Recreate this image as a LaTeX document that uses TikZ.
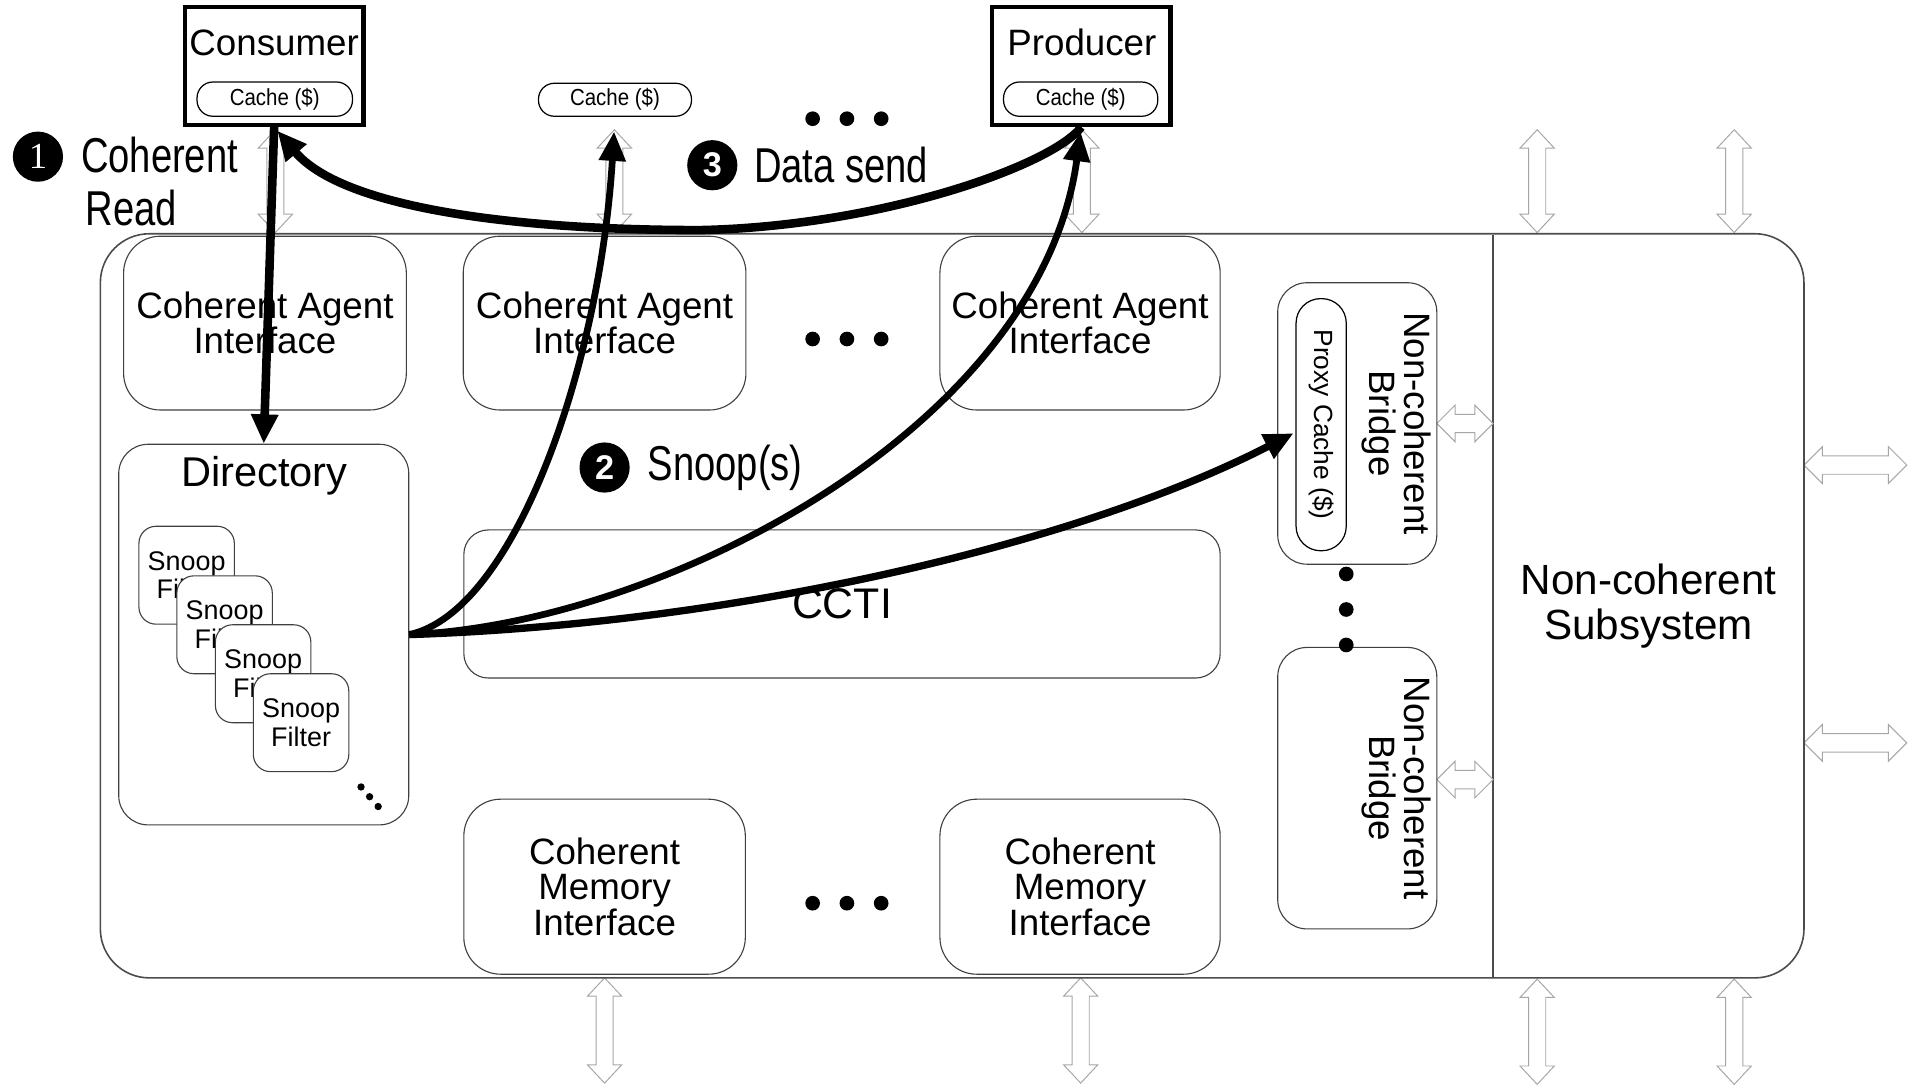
\documentclass[tikz,border=0pt]{standalone}
\usepackage{fontspec}
\setmainfont{Liberation Sans}
\newfontfamily\narrowfont[FakeStretch=0.78]{Liberation Sans}
\newfontfamily\condfont[FakeStretch=0.88]{Liberation Sans}
\newfontfamily\serifnum{Liberation Serif}
\usetikzlibrary{arrows.meta}
\newcommand\fsz[2]{\fontsize{#1}{#2}\selectfont}
% hollow vertical double arrow: x, y1 (top), y2 (bottom)
\newcommand\gvarrow[3]{\draw[garrow] (#1,#2) -- ({#1+14},{#2+15}) -- ({#1+7},{#2+15}) -- ({#1+7},{#3-15}) -- ({#1+14},{#3-15}) -- (#1,#3) -- ({#1-14},{#3-15}) -- ({#1-7},{#3-15}) -- ({#1-7},{#2+15}) -- ({#1-14},{#2+15}) -- cycle;}
% hollow horizontal double arrow: y, x1 (left), x2 (right)
\newcommand\gharrow[3]{\draw[garrow] (#2,#1) -- ({#2+15},{#1-15}) -- ({#2+15},{#1-7.5}) -- ({#3-15},{#1-7.5}) -- ({#3-15},{#1-15}) -- (#3,#1) -- ({#3-15},{#1+15}) -- ({#3-15},{#1+7.5}) -- ({#2+15},{#1+7.5}) -- ({#2+15},{#1+15}) -- cycle;}
\begin{document}
\begin{tikzpicture}[x=1pt,y=-1pt,
  rbox/.style={draw=black!75, line width=0.9pt, fill=white, rounded corners=30pt, inner sep=0pt, align=center},
  pill/.style={draw=black, line width=1pt, fill=white, rounded corners=13pt, inner sep=0pt, font=\condfont\fsz{19}{19}},
  agent/.style={draw=black, line width=3.5pt, fill=white, minimum width=146pt, minimum height=96pt, inner sep=0pt},
  sfilter/.style={rbox, rounded corners=14pt, minimum width=78pt, minimum height=80pt, font=\fsz{22}{23}},
  flowarrow/.style={-{Triangle[length=24pt,width=21pt]}, line width=5.5pt, black},
  garrow/.style={draw=black!35, line width=0.8pt, fill=white, line join=miter},
  stepnum/.style={circle, fill=black, text=white, minimum size=41pt, inner sep=0pt, font=\bfseries\fsz{28}{28}},
  steptext/.style={anchor=west, inner sep=0pt, font=\narrowfont\fsz{40}{40}},
  bigdot/.style={circle, fill=black, minimum size=12pt, inner sep=0pt},
  smalldot/.style={circle, fill=black, minimum size=6pt, inner sep=0pt},
  plain/.style={inner sep=0pt, align=center}
]
\fill[white] (0,0) rectangle (1568,887);
\useasboundingbox (0,0) rectangle (1568,887);

% gray hollow double arrows (behind)
\gvarrow{225}{106}{190}
\gvarrow{502}{106}{190}
\gvarrow{884}{106}{190}
\gvarrow{1256}{106}{190}
\gvarrow{1417}{106}{190}
\gvarrow{494}{799}{885}
\gvarrow{883}{799}{885}
\gvarrow{1256}{800}{886}
\gvarrow{1417}{800}{886}
\gharrow{380}{1474}{1558}
\gharrow{607}{1474}{1558}

% outer block
\node[rbox, draw=black!70, line width=1.3pt, rounded corners=40pt, minimum width=1392pt, minimum height=608pt] (ccu) at (778,495) {};
\node[plain, minimum width=254pt, minimum height=606pt, font=\fsz{34.5}{37}] (nonsub) at (1347,495) {Non-coherent\\Subsystem};
\draw[black!70, line width=1.2pt] (nonsub.north west) -- (nonsub.south west);

\gharrow{346}{1174}{1220}
\gharrow{637}{1174}{1220}

% coherent agent interfaces
\node[rbox, minimum width=231pt, minimum height=142pt, font=\fsz{30}{29}] (cai1) at (216.5,264) {Coherent Agent\\Interface};
\node[rbox, minimum width=231pt, minimum height=142pt, font=\fsz{30}{29}] (cai2) at (494,264) {Coherent Agent\\Interface};
\node[rbox, minimum width=229pt, minimum height=142pt, font=\fsz{30}{29}] (cai3) at (882.5,264) {Coherent Agent\\Interface};
\node[bigdot] (cd1) at (664,277) {};
\node[bigdot] (cd2) at (692,277) {};
\node[bigdot] (cd3) at (720,277) {};

% directory
\node[rbox, rounded corners=24pt, minimum width=237pt, minimum height=311pt] (directory) at (215.5,518.5) {};
\node[plain, font=\fsz{34}{34}] (dirlabel) at (216,389) {Directory};
\node[sfilter] (sf1) at (152.5,470) {Snoop\\Filter};
\node[sfilter] (sf2) at (183.5,510.5) {Snoop\\Filter};
\node[sfilter] (sf3) at (215,550.5) {Snoop\\Filter};
\node[sfilter] (sf4) at (246,590.5) {Snoop\\Filter};
\node[smalldot] (dd1) at (295,643) {};
\node[smalldot] (dd2) at (302,651) {};
\node[smalldot] (dd3) at (309,659) {};

% CCTI
\node[rbox, rounded corners=20pt, minimum width=618pt, minimum height=121pt, font=\fsz{35}{35}] (ccti) at (688,493.5) {CCTI};

% coherent memory interfaces
\node[rbox, minimum width=230pt, minimum height=143pt, font=\fsz{30}{29}] (cmi1) at (494,724.5) {Coherent\\Memory\\Interface};
\node[rbox, minimum width=229pt, minimum height=143pt, font=\fsz{30}{29}] (cmi2) at (882.5,724.5) {Coherent\\Memory\\Interface};
\node[bigdot] (md1) at (664,738) {};
\node[bigdot] (md2) at (692,738) {};
\node[bigdot] (md3) at (720,738) {};

% non-coherent bridges
\node[rbox, rounded corners=24pt, minimum width=130pt, minimum height=230pt] (bridge1) at (1109,346) {};
\node[pill, rounded corners=20pt, minimum width=41pt, minimum height=206pt] (proxy) at (1079.5,347) {};
\node[plain, rotate=-90, font=\fsz{21.5}{21.5}] (proxylabel) at (1080,347) {Proxy Cache (\$)};
\node[plain, rotate=-90, font=\fsz{30}{29}] (b1label) at (1141,346) {Non-coherent\\Bridge};
\node[rbox, rounded corners=24pt, minimum width=130pt, minimum height=230pt] (bridge2) at (1109,644) {};
\node[plain, rotate=-90, font=\fsz{30}{29}] (b2label) at (1141,644) {Non-coherent\\Bridge};
\node[bigdot] (bd1) at (1100,469) {};
\node[bigdot] (bd2) at (1100,498) {};
\node[bigdot] (bd3) at (1100,527) {};

% agents on top
\node[agent] (consumer) at (224,54) {};
\node[plain, font=\fsz{30}{30}] (consumerlabel) at (224,35) {Consumer};
\node[pill, minimum width=127pt, minimum height=28pt] (cache1) at (224.5,81) {Cache (\$)};
\node[agent] (producer) at (883.5,54) {};
\node[plain, font=\fsz{30}{30}] (producerlabel) at (884,35) {Producer};
\node[pill, minimum width=126pt, minimum height=28pt] (cache3) at (883,81) {Cache (\$)};
\node[pill, minimum width=125pt, minimum height=27pt] (cache2) at (502.5,81.5) {Cache (\$)};
\node[bigdot] (td1) at (664,97) {};
\node[bigdot] (td2) at (692,97) {};
\node[bigdot] (td3) at (720,97) {};

% flows
\coordinate (ptip) at (1057,354);
\draw[flowarrow, line width=7pt] (consumer.south) -- (directory.north);
\draw[flowarrow, line width=7pt, shorten >=4pt] (producer.south) .. controls (860,135) and (720,185) .. (572,188) .. controls (420,188) and (280,170) .. (consumer.south);
\draw[flowarrow] (directory.east) .. controls (420,500) and (490,300) .. (cache2.south) [shorten >=12pt];
\draw[flowarrow, shorten >=4pt] (directory.east) .. controls (540,510) and (850,350) .. (producer.south);
\draw[flowarrow, line width=6pt] (directory.east) .. controls (600,510) and (880,445) .. (ptip);

% step labels
\node[stepnum, font=\serifnum\fsz{30}{30}] (n1) at (31,128) {1};
\node[steptext] (coh) at (66,127) {Coherent};
\node[steptext] (read) at (70,170) {Read};
\node[stepnum] (n3) at (582,135) {3};
\node[steptext] (datasend) at (616,135) {Data send};
\node[stepnum] (n2) at (494,382) {2};
\node[steptext] (snoops) at (529,382) {Snoop(s)};
\end{tikzpicture}
\end{document}
